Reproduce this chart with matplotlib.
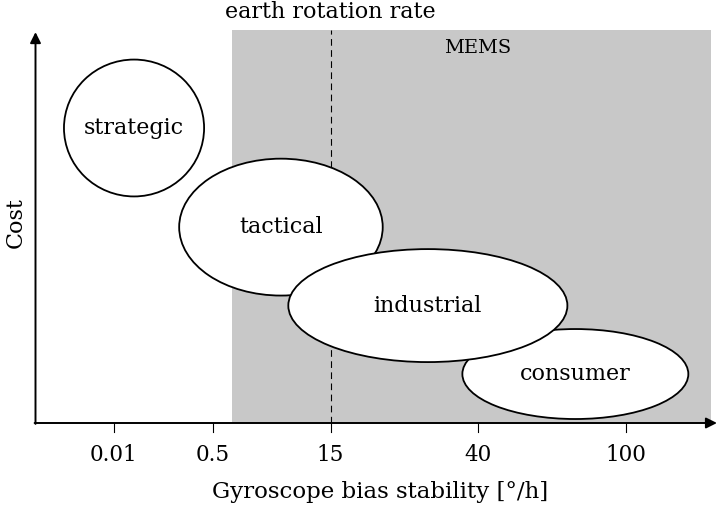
import matplotlib.pyplot as plt
from matplotlib.patches import Ellipse, Rectangle

# tick positions along the x axis and their labels
tick_pos = [2.65, 6.0, 10.0, 15.0, 20.0]
tick_labels = ["0.01", "0.5", "15", "40", "100"]

# gyroscope classes: centre x, centre y, width, height
classes = ["strategic", "tactical", "industrial", "consumer"]
cx = [3.34, 8.32, 13.3, 18.3]
cy = [10.0, 6.64, 3.98, 1.66]
widths = [4.75, 6.9, 9.46, 7.66]
heights = [4.64, 4.64, 3.83, 3.05]

mems_start = 6.66
earth_rate = 10.0

plt.rcParams["font.family"] = ["DejaVu Serif"]

fig = plt.figure(figsize=(7.18, 5.09), dpi=100)
ax = fig.add_axes([0, 0, 1, 1])
px = 29.5
ax.set_xlim(-35.5 / px, (718 - 35.5) / px)
ax.set_ylim(-(509 - 423) / px, 423 / px)
ax.axis("off")

x_end, y_end = 23.1, 13.25

# MEMS region
ax.add_patch(Rectangle((mems_start, 0), x_end - 0.2 - mems_start, 13.32,
                       facecolor="#c8c8c8", edgecolor="none", zorder=0))
ax.text(15.0, 12.7, "MEMS", ha="center", va="center", fontsize=14)

# earth rotation rate
ax.plot([earth_rate, earth_rate], [0, 13.32], color="black", lw=0.8,
        linestyle=(0, (6, 4)), zorder=1)
ax.text(earth_rate, 13.93, "earth rotation rate", ha="center", va="center", fontsize=16)

# axes with arrows
ax.annotate("", xy=(x_end, 0), xytext=(-0.03, 0),
            arrowprops=dict(arrowstyle="-|>", lw=1.4, color="black", mutation_scale=16,
                            shrinkA=0, shrinkB=0), zorder=6)
ax.annotate("", xy=(0, y_end), xytext=(0, -0.03),
            arrowprops=dict(arrowstyle="-|>", lw=1.4, color="black", mutation_scale=16,
                            shrinkA=0, shrinkB=0), zorder=6)

for p, lab in zip(tick_pos, tick_labels):
    ax.plot([p, p], [0, -0.3], color="black", lw=0.8, zorder=5)
    ax.text(p, -1.07, lab, ha="center", va="center", fontsize=15.5)

ax.text(11.68, -2.35, "Gyroscope bias stability [°/h]", ha="center", va="center",
        fontsize=16.5)
ax.text(-0.66, 6.8, "Cost", ha="center", va="center", rotation=90, fontsize=16)

# ellipses (industrial sits on top of its neighbours)
zorders = [3, 3, 4, 3]
for name, x, y, w, h, z in zip(classes, cx, cy, widths, heights, zorders):
    ax.add_patch(Ellipse((x, y), w, h, facecolor="white", edgecolor="black",
                         lw=1.3, zorder=z))
    ax.text(x, y, name, ha="center", va="center", fontsize=16, zorder=z)

fig.savefig("out.png", dpi=100)
